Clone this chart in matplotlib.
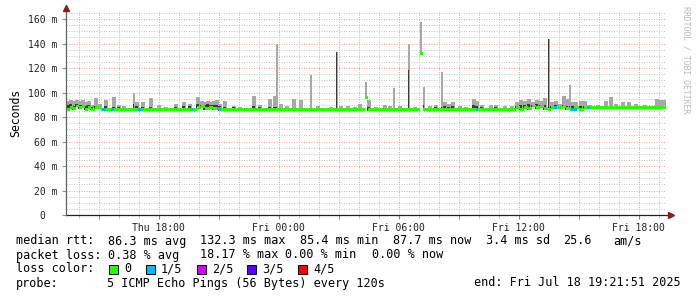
import numpy as np
import matplotlib
matplotlib.use("Agg")
import matplotlib.pyplot as plt
from matplotlib.patches import Rectangle
from matplotlib.ticker import MultipleLocator, FuncFormatter

plt.rcParams['font.family'] = ['DejaVu Sans Mono', 'DejaVu Sans']

# time is hours since Thu 00:00; 30 h window ending Fri 19:21:51
t_start = 13.364
t_end = 43.364

# smoke: sample time, max rtt (light) and upper-quantile rtt (dark), in ms
smoke_t = [13.46, 13.61, 13.76, 13.91, 14.06, 14.21, 14.36, 14.51, 14.66, 14.86,
           15.06, 15.36, 15.76, 16.01, 16.26, 16.76, 16.91, 17.21, 17.61, 18.01,
           18.36, 18.86, 19.26, 19.56, 19.96, 20.16, 20.31, 20.46, 20.61, 20.76,
           20.91, 21.06, 21.31, 21.76, 22.06, 22.76, 23.06, 23.56, 23.81, 23.91,
           24.11, 24.41, 24.76, 25.11, 25.61, 25.96, 26.61, 26.91, 27.11, 27.46,
           27.81, 28.06, 28.36, 28.51, 28.86, 29.31, 29.56, 29.76, 30.06, 30.51,
           30.81, 31.11, 31.26, 31.56, 31.86, 32.16, 32.31, 32.51, 32.71, 33.06,
           33.36, 33.76, 33.91, 34.16, 34.61, 34.86, 35.31, 35.66, 35.91, 36.11,
           36.31, 36.51, 36.71, 36.91, 37.11, 37.31, 37.51, 37.66, 37.86, 38.06,
           38.26, 38.41, 38.56, 38.71, 38.86, 39.11, 39.31, 39.56, 39.96, 40.36,
           40.61, 40.86, 41.21, 41.51, 41.86, 42.31, 42.91, 43.11, 43.31]
smoke_hi = [93, 94, 93, 94, 93, 94, 92, 93, 90, 95.5,
            91, 94, 96, 90, 89, 100, 92, 92, 95.5, 90,
            88, 91, 92, 91, 96, 93, 92, 93, 92, 93,
            94, 91, 93, 89, 88, 97, 90, 95, 97, 139.6,
            91, 89, 95, 94, 114, 89, 88, 133, 89, 89,
            88, 91, 108.6, 94, 88, 90, 89, 103.7, 89, 139.6,
            88, 157.5, 104.5, 89, 90, 117, 92, 91, 92, 89,
            88, 95, 93, 90, 90, 90, 89, 89, 92, 94,
            93, 95, 92, 94, 93, 95.5, 143.7, 92, 93, 91,
            97, 95, 106, 92, 92, 93, 93, 90, 90, 93,
            96, 91, 92, 92, 91, 90, 95, 94, 94]
smoke_dk = [90, 91, 89, 91, 90, 90, 89, 90, 88, 89,
            88, 89, 88, 88, 87, 91, 89, 88, 88, 87,
            87, 88, 89, 89, 91, 90, 90, 91, 90, 90,
            90, 89, 88, 88, 87, 89, 88, 88, 88, 88,
            87, 87, 87, 87, 87, 87, 87, 133, 87, 87,
            87, 87, 96, 88, 87, 87, 87, 87, 87, 118,
            87, 132, 90, 87, 88, 88, 89, 88, 89, 87,
            87, 90, 89, 88, 87, 88, 87, 87, 89, 90,
            90, 91, 90, 91, 90, 90, 143.7, 89, 90, 88,
            90, 89, 89, 89, 88, 89, 89, 87, 89, 89,
            89, 89, 89, 89, 89, 89, 89, 89, 89]

# median rtt, as a step series (value holds until next time)
median_t = [13.364, 13.55, 13.7, 13.85, 14.0, 14.15, 14.3, 14.45, 14.6, 14.8,
            15.1, 19.9, 20.1, 20.3, 20.5, 20.7, 21.0, 28.3, 28.45, 31.05,
            31.2, 35.85, 36.05, 36.25, 36.45, 36.65, 36.85, 37.05, 37.25, 37.45,
            37.6, 38.2, 38.35, 38.55, 38.75, 39.0, 39.25, 39.7]
median_v = [86.3, 88, 87, 89, 87.5, 88.5, 86.5, 88, 86.5, 87.5,
            86.3, 87.5, 88.5, 87, 88, 86.8, 86.3, 96, 86.3, 132,
            86.5, 87.5, 86.5, 88, 87, 89, 87.5, 88.5, 87, 86.3,
            87.5, 88.5, 87, 86.5, 88, 86.5, 87.5, 88.0]

# periods with 1/5 packet loss
loss_start = [15.15, 15.6, 16.95, 19.6, 20.9, 33.88, 37.75, 38.6, 39.4]
loss_end = [15.35, 15.75, 17.15, 19.7, 21.1, 33.98, 37.9, 38.9, 39.55]

loss_labels = ['0', '1/5', '2/5', '3/5', '4/5']
loss_colors = ['#26ff00', '#00b8ff', '#d400ff', '#5a00ff', '#ff0000']

W, H = 697, 297
fig = plt.figure(figsize=(W / 100, H / 100), dpi=100)
ax = fig.add_axes([66 / W, 82 / H, 600 / W, 203.3 / H])


def median_at(t):
    return median_v[np.searchsorted(median_t, t, side='right') - 1]


# smoke, starting just under the median band
hi = np.array(smoke_hi)
dk = np.array(smoke_dk)
base = np.array([median_at(t) - 1.0 for t in smoke_t])
widths = np.where(hi > 99, 0.07, 0.18)
ax.bar(smoke_t, hi - base, bottom=base, width=widths, color='#a8a8a8', linewidth=0, zorder=2)
ax.bar(smoke_t, np.maximum(dk - base, 0), bottom=base, width=widths * 0.8,
       color='#3a3a3a', linewidth=0, zorder=3)

# median band
edges = median_t + [t_end]
mv = np.array(median_v)
ax.bar(median_t, 2.4, bottom=mv - 1.2, width=np.diff(edges), align='edge',
       color=loss_colors[0], linewidth=0, zorder=4)
for s, e in zip(loss_start, loss_end):
    v = median_at(s)
    ax.bar(s, 2.4, bottom=v - 1.2, width=e - s, align='edge',
           color=loss_colors[1], linewidth=0, zorder=5)

ax.set_xlim(t_start, t_end)
ax.set_ylim(0, 166)

ax.xaxis.set_major_locator(MultipleLocator(3))
ax.xaxis.set_minor_locator(MultipleLocator(1))
ax.yaxis.set_major_locator(MultipleLocator(20))
ax.yaxis.set_minor_locator(MultipleLocator(5))


def xfmt(h, pos):
    if round(h) % 6:
        return ''
    day = 'Thu' if h < 24 else 'Fri'
    return f'{day} {int(round(h)) % 24:02d}:00'


def yfmt(v, pos):
    return '0  ' if v == 0 else f'{int(v)} m'


ax.xaxis.set_major_formatter(FuncFormatter(xfmt))
ax.yaxis.set_major_formatter(FuncFormatter(yfmt))

ax.set_axisbelow(True)
ax.grid(which='minor', color='#c4c4c4', linestyle=(0, (1, 1.5)), linewidth=0.72)
ax.grid(which='major', color='#f0a0a0', linestyle=(0, (1, 1.5)), linewidth=0.72)

for s in ax.spines.values():
    s.set_visible(False)
ax.tick_params(axis='x', which='major', length=3, color='#e06060', pad=2.5,
               labelsize=7, labelcolor='#202020')
ax.tick_params(axis='x', which='minor', length=2, color='#b0b0b0')
ax.tick_params(axis='y', which='major', length=3, color='#909090', pad=3,
               labelsize=7, labelcolor='#202020')
ax.tick_params(axis='y', which='minor', length=0)

# axis lines with arrow heads
ax.plot([0, 1.008], [0, 0], color='#202020', lw=0.9, transform=ax.transAxes,
        clip_on=False, zorder=6)
ax.plot([0, 0], [0, 1.02], color='#606060', lw=0.9, transform=ax.transAxes,
        clip_on=False, zorder=6)
ax.plot([1.008], [0], marker='>', ms=4, color='#8b1a1a', transform=ax.transAxes,
        clip_on=False, zorder=7)
ax.plot([0], [1.02], marker='^', ms=4, color='#8b1a1a', transform=ax.transAxes,
        clip_on=False, zorder=7)

ax.set_ylabel('Seconds', fontsize=8.3, labelpad=4)
fig.text(686 / W, 1 - 60 / H, 'RRDTOOL / TOBI OETIKER', rotation=270,
         fontsize=5.9, color='#b8b8b8', ha='center', va='center')


def put(x, y, s, **kw):
    fig.text(x / W, 1 - y / H, s, fontsize=8.5, color='black', va='center', **kw)


line1 = [('median rtt:', 16), ('86.3 ms avg', 108), ('132.3 ms max', 200),
         ('85.4 ms min', 300), ('87.7 ms now', 393), ('3.4 ms sd', 486),
         ('25.6', 563), ('am/s', 613)]
line2 = [('packet loss:', 16), ('0.38 % avg', 108), ('18.17 % max', 200),
         ('0.00 % min', 285), ('0.00 % now', 372)]
for s, x in line1:
    put(x, 241, s)
for s, x in line2:
    put(x, 255, s)

put(16, 269, 'loss color:')
box_x = [109, 146, 197, 247, 298]
for lab, col, bx in zip(loss_labels, loss_colors, box_x):
    fig.patches.append(Rectangle((bx / W, 1 - 273.5 / H), 8.5 / W, 9 / H,
                                 transform=fig.transFigure, facecolor=col,
                                 edgecolor='black', linewidth=0.7))
    put(bx + 15, 269, lab)

put(16, 283, 'probe:')
put(107, 283, '5 ICMP Echo Pings (56 Bytes) every 120s')
put(681, 283, 'end: Fri Jul 18 19:21:51 2025', ha='right')

fig.savefig('out.png', dpi=100)
